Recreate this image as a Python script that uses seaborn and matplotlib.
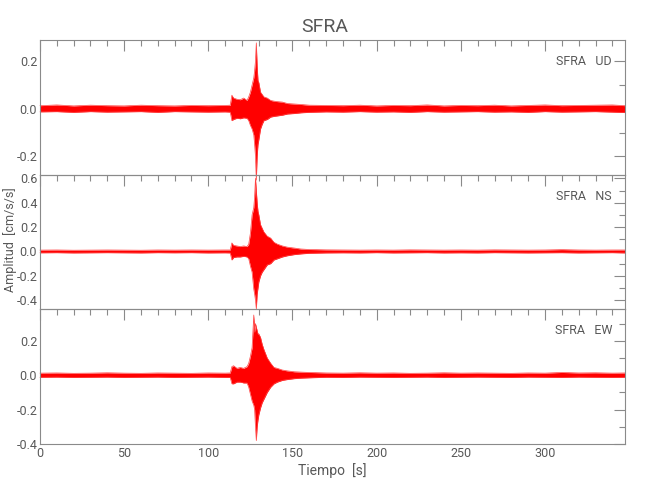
import numpy as np
import pandas as pd
import matplotlib
matplotlib.use('Agg')
import matplotlib.pyplot as plt
from matplotlib.ticker import MultipleLocator, FormatStrFormatter
import seaborn as sns

# time knots [s] for the envelope of each trace
t = [0, 10, 20, 30, 40, 50, 60, 70, 80, 90, 100, 110,
     113, 114, 115, 117, 119, 121, 123, 124, 125, 126, 127, 127.5, 128, 128.5,
     129, 129.5, 130, 131, 132, 133, 135, 137, 139, 141, 144, 147, 151, 155, 160,
     170, 180, 190, 200, 210, 220, 230, 240, 250, 260, 270, 280, 290, 300, 310,
     320, 330, 340, 347.5]

# UD component (cm/s/s) upper / lower envelope
ud_hi = [0.013, 0.016, 0.012, 0.015, 0.013, 0.012, 0.015, 0.013, 0.012, 0.014, 0.013, 0.014,
         0.015, 0.057, 0.045, 0.040, 0.038, 0.045, 0.035, 0.050, 0.070, 0.100, 0.130, 0.160, 0.200, 0.277,
         0.180, 0.120, 0.110, 0.070, 0.060, 0.050, 0.045, 0.035, 0.032, 0.030, 0.028, 0.022, 0.020, 0.018, 0.015,
         0.014, 0.013, 0.015, 0.012, 0.014, 0.013, 0.016, 0.012, 0.014, 0.013, 0.015, 0.012, 0.014, 0.016, 0.013,
         0.014, 0.015, 0.016, 0.013]
ud_lo = [-0.013, -0.012, -0.015, -0.012, -0.014, -0.013, -0.012, -0.015, -0.012, -0.013, -0.014, -0.013,
         -0.014, -0.050, -0.045, -0.040, -0.042, -0.038, -0.040, -0.050, -0.070, -0.085, -0.110, -0.150, -0.200, -0.300,
         -0.200, -0.150, -0.130, -0.085, -0.065, -0.050, -0.045, -0.035, -0.032, -0.030, -0.027, -0.022, -0.020, -0.017, -0.015,
         -0.013, -0.014, -0.012, -0.014, -0.013, -0.015, -0.012, -0.014, -0.013, -0.012, -0.014, -0.013, -0.015, -0.012, -0.014,
         -0.013, -0.012, -0.014, -0.016]

# NS component
ns_hi = [0.011, 0.012, 0.010, 0.011, 0.012, 0.011, 0.010, 0.012, 0.011, 0.012, 0.011, 0.012,
         0.012, 0.070, 0.050, 0.045, 0.040, 0.045, 0.040, 0.060, 0.150, 0.300, 0.360, 0.450, 0.600, 0.500,
         0.400, 0.330, 0.300, 0.220, 0.190, 0.160, 0.125, 0.110, 0.075, 0.060, 0.045, 0.035, 0.028, 0.020, 0.016,
         0.013, 0.012, 0.011, 0.012, 0.011, 0.013, 0.012, 0.011, 0.012, 0.011, 0.013, 0.012, 0.011, 0.012, 0.015,
         0.012, 0.011, 0.012, 0.012]
ns_lo = [-0.011, -0.010, -0.012, -0.011, -0.010, -0.011, -0.012, -0.010, -0.011, -0.010, -0.012, -0.011,
         -0.012, -0.070, -0.050, -0.045, -0.045, -0.040, -0.045, -0.060, -0.120, -0.170, -0.310, -0.350, -0.400, -0.470,
         -0.350, -0.300, -0.250, -0.200, -0.170, -0.150, -0.110, -0.100, -0.070, -0.060, -0.045, -0.035, -0.026, -0.020, -0.015,
         -0.012, -0.011, -0.012, -0.010, -0.012, -0.011, -0.010, -0.012, -0.011, -0.012, -0.010, -0.011, -0.012, -0.011, -0.010,
         -0.012, -0.011, -0.010, -0.012]

# EW component
ew_hi = [0.012, 0.013, 0.011, 0.012, 0.014, 0.012, 0.011, 0.013, 0.012, 0.011, 0.013, 0.012,
         0.013, 0.050, 0.055, 0.040, 0.045, 0.040, 0.050, 0.070, 0.110, 0.160, 0.350, 0.250, 0.300, 0.280,
         0.260, 0.240, 0.240, 0.220, 0.180, 0.150, 0.100, 0.070, 0.045, 0.040, 0.030, 0.025, 0.020, 0.018, 0.016,
         0.013, 0.012, 0.014, 0.012, 0.013, 0.011, 0.012, 0.014, 0.012, 0.013, 0.012, 0.011, 0.013, 0.012, 0.016,
         0.013, 0.014, 0.012, 0.013]
ew_lo = [-0.012, -0.011, -0.013, -0.012, -0.011, -0.013, -0.012, -0.011, -0.013, -0.012, -0.011, -0.013,
         -0.013, -0.050, -0.050, -0.040, -0.040, -0.045, -0.045, -0.070, -0.110, -0.150, -0.175, -0.200, -0.300, -0.380,
         -0.300, -0.260, -0.230, -0.190, -0.160, -0.140, -0.100, -0.070, -0.050, -0.040, -0.030, -0.025, -0.020, -0.017, -0.015,
         -0.012, -0.013, -0.011, -0.012, -0.013, -0.012, -0.011, -0.013, -0.012, -0.011, -0.012, -0.013, -0.011, -0.012, -0.013,
         -0.011, -0.012, -0.013, -0.012]

components = ['UD', 'NS', 'EW']
station = 'SFRA'
ylims = [(-0.277, 0.289), (-0.475, 0.63), (-0.40, 0.383)]

df = pd.DataFrame({'t': t,
                   'UD_hi': ud_hi, 'UD_lo': ud_lo,
                   'NS_hi': ns_hi, 'NS_lo': ns_lo,
                   'EW_hi': ew_hi, 'EW_lo': ew_lo})

sns.set_style('white')
plt.rcParams['font.family'] = ['Roboto', 'DejaVu Sans']
plt.rcParams['axes.unicode_minus'] = False

txt = '#585858'
axc = '#8a8a8a'

fig, axes = plt.subplots(3, 1, figsize=(6.5, 5), dpi=100, sharex=True)
fig.subplots_adjust(left=0.0615, right=0.9615, bottom=0.112, top=0.92, hspace=0)

for ax, comp, yl in zip(axes, components, ylims):
    ax.set_facecolor('none')
    ax.fill_between(df['t'], df[comp + '_lo'], df[comp + '_hi'], color='red', lw=0, clip_on=False)
    sns.lineplot(data=df, x='t', y=comp + '_hi', ax=ax, color='#ff4040', lw=0.5, clip_on=False)
    sns.lineplot(data=df, x='t', y=comp + '_lo', ax=ax, color='#ff4040', lw=0.5, clip_on=False)
    ax.set_ylim(yl)
    ax.set_xlim(0, 347.5)
    ax.set_xlabel('')
    ax.set_ylabel('')
    ax.yaxis.set_major_locator(MultipleLocator(0.2))
    ax.yaxis.set_minor_locator(MultipleLocator(0.1))
    ax.yaxis.set_major_formatter(FormatStrFormatter('%.1f'))
    ax.xaxis.set_major_locator(MultipleLocator(50))
    ax.xaxis.set_minor_locator(MultipleLocator(10))
    ax.tick_params(which='both', direction='in', top=True, right=True, colors=axc,
                   labelcolor=txt, labelsize=9, width=0.8)
    ax.tick_params(which='major', length=8, pad=2)
    ax.tick_params(which='minor', length=4)
    for s in ax.spines.values():
        s.set_color(axc)
        s.set_linewidth(0.8)
    ax.text(0.978, 0.84, station + '   ' + comp, transform=ax.transAxes,
            ha='right', va='center', color=txt, fontsize=9)

axes[-1].set_xlabel('Tiempo  [s]', color=txt, fontsize=10, labelpad=2)
fig.text(0.016, 0.52, 'Amplitud  [cm/s/s]', rotation=90, ha='center', va='center',
         color=txt, fontsize=9)
fig.suptitle(station, y=0.965, color=txt, fontsize=14)

fig.savefig('out.png', dpi=100)
